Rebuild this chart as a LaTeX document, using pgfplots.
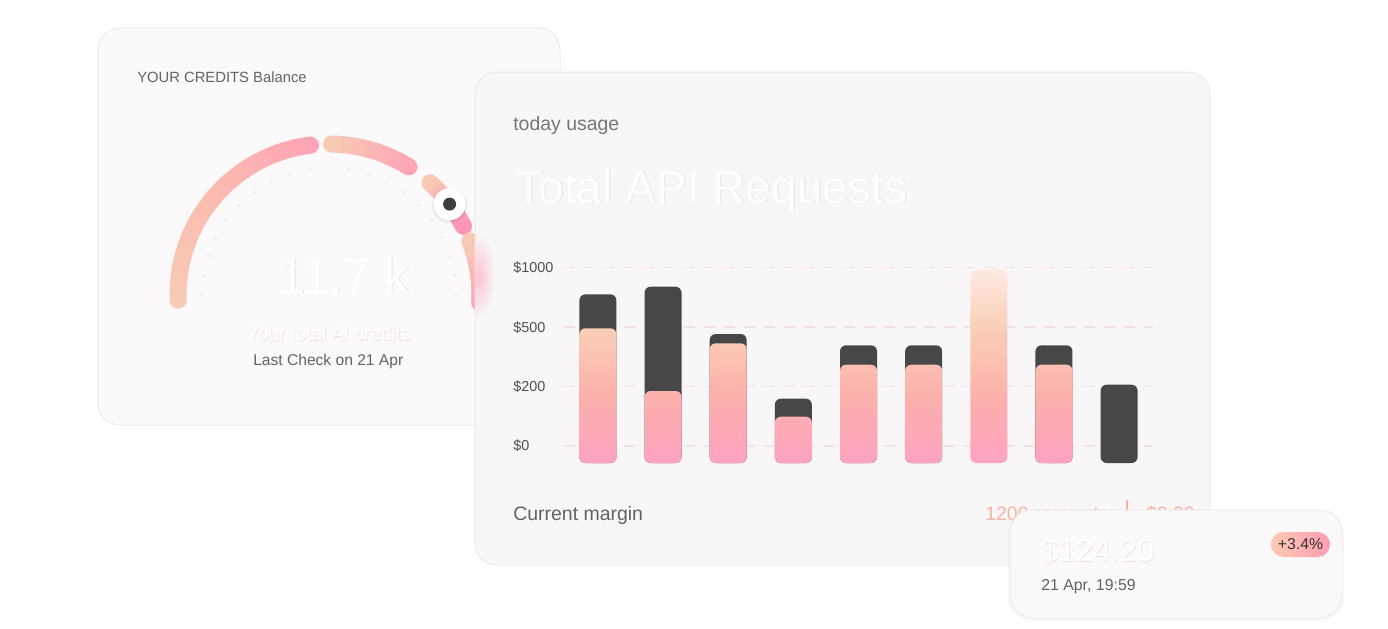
\documentclass[border=0pt]{standalone}
\usepackage{pgfplots}
\pgfplotsset{compat=1.18}
\usepackage{fontspec}
\setmainfont{Liberation Sans}
\usetikzlibrary{fadings}

\definecolor{cardA}{HTML}{FBF9F9}
\definecolor{cardEdge}{HTML}{EFEBEB}
\definecolor{cardTwo}{HTML}{F8F6F6}
\definecolor{txtGray}{HTML}{636363}
\definecolor{txtGrayB}{HTML}{777777}
\definecolor{tickc}{HTML}{4F4F4F}
\definecolor{gridc}{HTML}{F3E3E6}
\definecolor{barDark}{HTML}{474747}
\definecolor{barBot}{HTML}{FFA3C1}
\definecolor{barMid}{HTML}{FDB0AC}
\definecolor{barPeach}{HTML}{F9CFB8}
\definecolor{barTop}{HTML}{FFEAE3}
\definecolor{segPeach}{HTML}{F7CBB5}
\definecolor{segMid}{HTML}{FBBCB0}
\definecolor{segPink}{HTML}{FFA5B5}
\definecolor{segHot}{HTML}{FF95B8}
\definecolor{dotc}{HTML}{EAE3E3}
\definecolor{knobc}{HTML}{3E3E3E}
\definecolor{salmon}{HTML}{F6B4A6}
\definecolor{pillL}{HTML}{FCCBB1}
\definecolor{pillR}{HTML}{FF9CB3}
\definecolor{pillTxt}{HTML}{333333}
\definecolor{ghost}{HTML}{F1E1E4}
\definecolor{glowPink}{HTML}{FFB3C3}

\tikzfading[name=glowfade, inner color=transparent!0, outer color=transparent!100]

\pgfdeclareverticalshading{barshade}{100bp}{color(0bp)=(barBot); color(25bp)=(barBot); color(42bp)=(barMid); color(60bp)=(barPeach); color(75bp)=(barTop); color(100bp)=(barTop)}

% gauge segment: start angle, end angle, start colour, end colour, steps
\newcommand\gseg[5]{%
  \fill[#3] (#1:151) circle (8.5);
  \fill[#4] (#2:151) circle (8.5);
  \foreach \i in {1,...,#5}{%
    \pgfmathsetmacro\aa{#1+(#2-#1)*(\i-1)/#5}%
    \pgfmathsetmacro\ab{#1+(#2-#1)*(\i+0.25)/#5}%
    \pgfmathsetmacro\pp{100*(\i-0.5)/#5}%
    \colorlet{segc}{#4!\pp!#3}%
    \draw[segc, line width=12.75pt] (\aa:151) arc[start angle=\aa, end angle=\ab, radius=151];
  }%
}
% white text with a faint rim
\newcommand\ghosttext[4]{%
  \node[anchor=base west, inner sep=0pt, text=ghost, font=#3] at (#1+0.8,#2+0.8) {#4};
  \node[anchor=base west, inner sep=0pt, text=white, font=#3] at (#1,#2) {#4};
}

\begin{document}
\begin{tikzpicture}
\begin{scope}[x=0.75pt,y=-0.75pt]
\useasboundingbox[fill=white] (0,0) rectangle (1388,628);

% ---- card 1
\fill[cardA, draw=cardEdge, line width=0.75pt, rounded corners=16.5pt] (98,28) rectangle (560,425);

% ---- gauge
\begin{scope}[shift={(329,295)}, yscale=-1]
  \foreach \a in {0,9,...,180} \fill[dotc] (\a:127) circle (1.2);
  \gseg{182}{140}{segPeach}{segMid}{20}
  \gseg{140}{97}{segMid}{segPink}{20}
  \gseg{89}{58}{segPeach}{segPink}{16}
  \gseg{48}{37}{segPeach}{segPink}{8}
  \gseg{37}{27}{segPink}{segHot}{8}
  \gseg{21}{-3}{segPeach}{segPink}{12}
  \fill[black, opacity=0.06] (37:151) ++(0,-1.5) circle (17.5);
  \fill[white] (37:151) circle (16);
  \fill[knobc] (37:151) circle (6.5);
\end{scope}

\node[anchor=base west, inner sep=0pt, text=txtGray, font=\fontsize{11.1}{13}\selectfont] at (137,82) {YOUR CREDITS Balance};
\ghosttext{278}{293}{\fontsize{37}{40}\selectfont}{11.7 k}
\ghosttext{247}{340.5}{\fontsize{14.2}{16}\selectfont}{Your total AI credits}
\node[anchor=base west, inner sep=0pt, text=txtGray, font=\fontsize{11.7}{14}\selectfont] at (253,365) {Last Check on 21 Apr};

% ---- card 2
\fill[cardTwo, draw=cardEdge, line width=0.75pt, rounded corners=16.5pt] (475,72) rectangle (1210,565);
\begin{scope}
  \clip (475,72) rectangle (1210,565);
  \fill[glowPink, opacity=0.75, path fading=glowfade] (478,276) ellipse (17 and 42);
\end{scope}

\node[anchor=base west, inner sep=0pt, text=txtGrayB, font=\fontsize{14.6}{17}\selectfont] at (513,130) {today usage};
\ghosttext{515}{203}{\fontsize{34.6}{40}\selectfont}{Total API Requests}
\node[anchor=base west, inner sep=0pt, text=txtGray, font=\fontsize{14.6}{17}\selectfont] at (513,520) {Current margin};
\node[anchor=base west, inner sep=0pt, text=salmon, font=\fontsize{14.6}{17}\selectfont] at (985,520) {1200 requests};
\draw[salmon, line width=1.1pt] (1127,500) -- (1127,522);
\node[anchor=base east, inner sep=0pt, text=salmon, font=\fontsize{14.6}{17}\selectfont] at (1195,520) {\$0.00};
\end{scope}

% ---- bar chart
\begin{axis}[
  at={(423pt,-347.25pt)}, anchor=south west,
  scale only axis, width=441.75pt, height=147.26pt,
  xmin=-0.52, xmax=8.52, ymin=0, ymax=3.3,
  ybar, bar width=27.75pt,
  axis line style={draw=none}, tick style={draw=none},
  xtick=\empty,
  ytick={0.286,1.29,2.283,3.282},
  yticklabels={\mbox{\$0},\mbox{\$200},\mbox{\$500},\mbox{\$1000}},
  yticklabel style={anchor=west, inner sep=0pt, xshift=-38.25pt, font=\fontsize{10.8}{12}\selectfont, text=tickc},
  ymajorgrids, grid style={gridc, line width=1.1pt, dash pattern=on 8pt off 7pt},
]
\addplot[fill=barDark, draw=none, bar shift=0pt, rounded corners=4.5pt]
  coordinates {(0,2.835) (1,2.963) (2,2.168) (3,1.081) (4,1.978) (5,1.978) (7,1.978) (8,1.316)};
\addplot[shade, shading=barshade, draw=none, bar shift=0pt, rounded corners=4.5pt]
  coordinates {(0,2.264) (1,1.21) (2,2.012) (3,0.778) (4,1.652) (5,1.652) (6,3.255) (7,1.652)};
\end{axis}

% ---- card 3
\begin{scope}[x=0.75pt,y=-0.75pt]
\fill[black, opacity=0.025, rounded corners=16.5pt] (1008,511) rectangle (1344,621);
\fill[cardA, draw=cardEdge, line width=0.75pt, rounded corners=16.5pt] (1010,510) rectangle (1342,618);
\ghosttext{1041}{561.5}{\fontsize{23.5}{27}\selectfont}{\$124.20}
\node[anchor=base west, inner sep=0pt, text=txtGray, font=\fontsize{11.9}{14}\selectfont] at (1041,590) {21 Apr, 19:59};
\shade[left color=pillL, right color=pillR, rounded corners=9.3pt] (1271,532) rectangle (1330,557);
\node[inner sep=0pt, text=pillTxt, font=\fontsize{11.8}{14}\selectfont] at (1300.5,544.5) {+3.4\%};
\end{scope}
\end{tikzpicture}
\end{document}
